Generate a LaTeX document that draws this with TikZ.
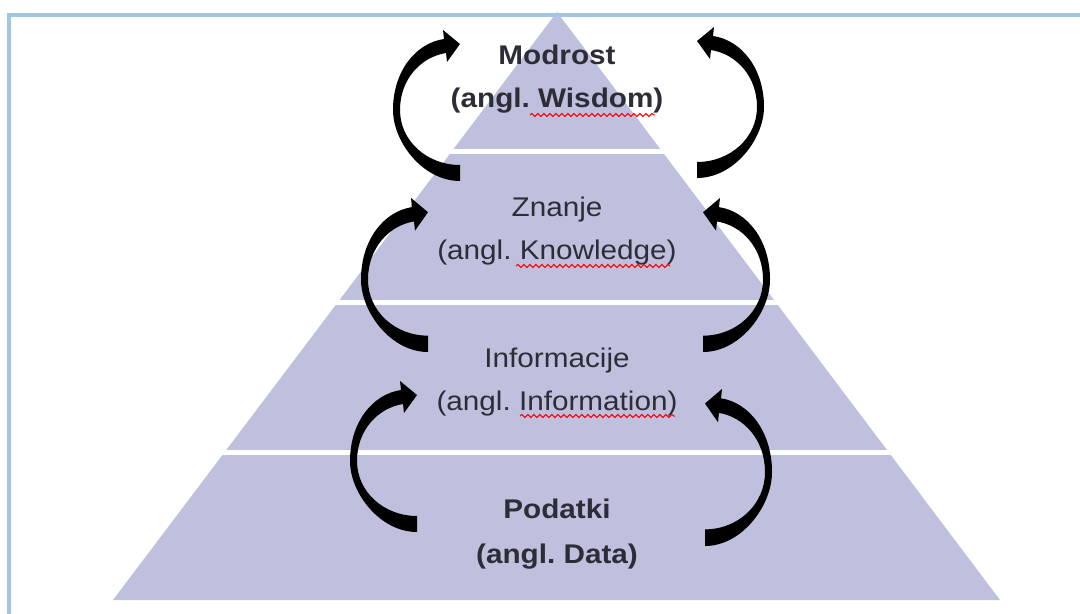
\documentclass[tikz,border=0pt]{standalone}
\usepackage{fontspec}
\setmainfont{Liberation Sans}
\usepackage{graphicx}
\usetikzlibrary{decorations.pathmorphing}
\definecolor{pyr}{RGB}{191,191,222}
\definecolor{framec}{RGB}{160,197,230}
\definecolor{txt}{RGB}{45,45,55}
\newcommand{\lbl}[1]{\scalebox{1.1}[1]{#1}}
\frenchspacing
\tikzset{
  pics/curvarrow/.style={code={
    \fill[black] (0,0) .. controls (-37,0) and (-67,-39) .. (-67,-71)
      .. controls (-67,-110) and (-44,-138) .. (-16,-142)
      -- (-17,-151) -- (0,-137) -- (-13,-119) -- (-14,-128)
      .. controls (-39,-124) and (-60,-102) .. (-60,-71)
      .. controls (-60,-40) and (-33,-16) .. (0,-16) -- cycle;
  }}
}
\begin{document}
\begin{tikzpicture}[x=0.5pt,y=-0.5pt,
  lab/.style={anchor=base,text=txt,font=\fontsize{13.5}{16}\selectfont,inner sep=0pt},
  boldlab/.style={lab,font=\fontsize{13.5}{16}\selectfont\bfseries},
  sepline/.style={draw=white,line width=2.5pt},
  spell/.style={draw=red,line width=0.5pt,decorate,decoration={snake,amplitude=0.8pt,segment length=3pt}},
  framel/.style={draw=framec,line width=2pt}
]
\useasboundingbox (0,0) rectangle (1080,614);
\fill[white] (0,0) rectangle (1080,614);
% pyramid
\fill[pyr] (557,12) -- (1000,600) -- (113,600) -- cycle;
\draw[sepline] (60,152) -- (1050,152);
\draw[sepline] (60,303) -- (1050,303);
\draw[sepline] (60,452) -- (1050,452);
% frame
\draw[framel] (9,614) -- (9,15) -- (1080,15);
% labels
\node[boldlab] (w1) at (557,65) {\lbl{Modrost}};
\node[boldlab] (w2) at (557,108) {\lbl{(angl. Wisdom)}};
\node[lab] (k1) at (557,217) {\lbl{Znanje}};
\node[lab] (k2) at (557,260) {\lbl{(angl. Knowledge)}};
\node[lab] (i1) at (557,367) {\lbl{Informacije}};
\node[lab] (i2) at (557,410) {\lbl{(angl. Information)}};
\node[boldlab] (d1) at (557,518) {\lbl{Podatki}};
\node[boldlab] (d2) at (557,563) {\lbl{(angl. Data)}};
% spell-check underlines
\draw[spell] (530,115) -- (655,115);
\draw[spell] (516,266) -- (670,266);
\draw[spell] (520,416) -- (675,416);
% curved arrows
\pic at (460,181) {curvarrow};
\pic[yscale=1.02] at (428,352) {curvarrow};
\pic at (417,532) {curvarrow};
\pic[xscale=-1] at (697,178) {curvarrow};
\pic[xscale=-1,yscale=1.02] at (703,352) {curvarrow};
\pic[xscale=-1,yscale=1.04] at (705,546) {curvarrow};
\end{tikzpicture}
\end{document}
